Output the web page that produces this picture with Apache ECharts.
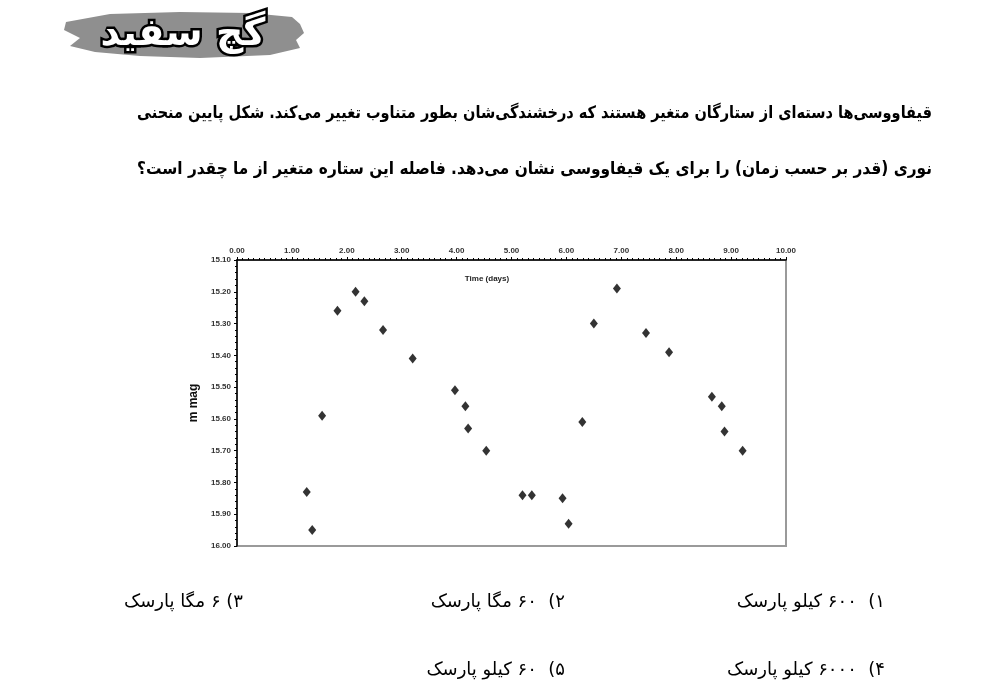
<!DOCTYPE html>
<html>
<head>
<meta charset="utf-8">
<script src="https://cdn.jsdelivr.net/npm/echarts@6/dist/echarts.min.js"></script>
<style>
  html, body { margin: 0; padding: 0; background: #fff; }
  #main { width: 992px; height: 692px; }
</style>
</head>
<body>
<div id="main"></div>
<script>
// light curve of a cepheid: time (days) vs apparent magnitude
var timeDays = [1.27, 1.37, 1.55, 1.83, 2.16, 2.32, 2.66, 3.20, 3.97, 4.16, 4.21, 4.54, 5.20,
  5.37, 5.93, 6.04, 6.29, 6.50, 6.92, 7.45, 7.87, 8.65, 8.83, 8.88, 9.21];
var magnitudes = [15.83, 15.95, 15.59, 15.26, 15.20, 15.23, 15.32, 15.41, 15.51, 15.56, 15.63, 15.70, 15.84,
  15.84, 15.85, 15.93, 15.61, 15.30, 15.19, 15.33, 15.39, 15.53, 15.56, 15.64, 15.70];

var questionLines = [
  'قیفاووسی‌ها دسته‌ای از ستارگان متغیر هستند که درخشندگی‌شان بطور متناوب تغییر می‌کند. شکل پایین منحنی',
  'نوری (قدر بر حسب زمان) را برای یک قیفاووسی نشان می‌دهد. فاصله این ستاره متغیر از ما چقدر است؟'
];
var answerOptions = [
  '۱)  ۶۰۰ کیلو پارسک',
  '۲)  ۶۰ مگا پارسک',
  '۳) ۶ مگا پارسک',
  '۴)  ۶۰۰۰ کیلو پارسک',
  '۵)  ۶۰ کیلو پارسک'
];

var RLM = '\u200F';
var chart = echarts.init(document.getElementById('main'));

var data = timeDays.map(function (t, i) { return [t, magnitudes[i]]; });

var faFont = '"DejaVu Sans", sans-serif';
var numFont = '"Liberation Sans", Arial, sans-serif';

// answer positions (right edge x, y)
var optPos = [[885, 602], [565, 602], [243, 602], [885, 670], [565, 670]];

// question lines are squeezed to the paragraph width (932 - 137), like justified text
var lineFont = 'bold 17px ' + faFont;
var measureCtx = document.createElement('canvas').getContext('2d');
measureCtx.font = lineFont;

var graphics = [
  // logo brush stroke
  {
    type: 'polygon',
    shape: {
      points: [[66, 22], [110, 14], [180, 12], [250, 13], [292, 17], [300, 24], [304, 33],
        [296, 40], [300, 48], [270, 55], [200, 58], [140, 56], [95, 52], [70, 46], [80, 38], [64, 30]]
    },
    style: { fill: '#8f8f8f' }
  },
  {
    type: 'text',
    x: 183, y: 35,
    style: {
      text: 'گچ سفید',
      font: 'bold 38px ' + faFont,
      fill: '#fff',
      stroke: '#000',
      lineWidth: 5,
      align: 'center',
      verticalAlign: 'middle'
    }
  },
  {
    type: 'text',
    x: 487, y: 279,
    style: {
      text: 'Time (days)',
      font: 'bold 8px ' + numFont,
      fill: '#222',
      align: 'center',
      verticalAlign: 'middle'
    }
  }
];

questionLines.forEach(function (line, i) {
  var w = measureCtx.measureText(RLM + line).width || 795;
  graphics.push({
    type: 'text',
    x: 932, y: 114 + i * 56,
    scaleX: Math.min(1, 795 / w),
    style: {
      text: RLM + line,
      font: lineFont,
      fill: '#000',
      align: 'right',
      verticalAlign: 'middle'
    }
  });
});

answerOptions.forEach(function (opt, i) {
  graphics.push({
    type: 'text',
    x: optPos[i][0], y: optPos[i][1],
    style: {
      text: RLM + opt,
      font: '18px ' + faFont,
      fill: '#000',
      align: 'right',
      verticalAlign: 'middle'
    }
  });
});

var option = {
  backgroundColor: '#fff',
  animation: false,
  grid: {
    left: 237, right: 206, top: 260, bottom: 146,
    show: true,
    borderColor: '#9a9a9a',
    borderWidth: 2,
    backgroundColor: '#fff'
  },
  xAxis: {
    type: 'value',
    position: 'top',
    min: 0, max: 10, interval: 1,
    axisLine: { onZero: false, lineStyle: { color: '#000', width: 1.5 } },
    axisTick: { show: true, length: 3, lineStyle: { color: '#000' } },
    minorTick: { show: true, splitNumber: 10, length: 2, lineStyle: { color: '#000' } },
    splitLine: { show: false },
    axisLabel: {
      fontSize: 8, fontWeight: 'bold', color: '#333', margin: 5,
      fontFamily: numFont,
      formatter: function (v) { return v.toFixed(2); }
    }
  },
  yAxis: {
    type: 'value',
    inverse: true,
    min: 15.1, max: 16.0, interval: 0.1,
    name: 'm mag',
    nameLocation: 'middle',
    nameGap: 36,
    nameTextStyle: { fontSize: 12, fontWeight: 'bold', color: '#111', fontFamily: numFont },
    axisLine: { onZero: false, lineStyle: { color: '#000', width: 1.5 } },
    axisTick: { show: true, length: 3, lineStyle: { color: '#000' } },
    minorTick: { show: true, splitNumber: 5, length: 2, lineStyle: { color: '#000' } },
    splitLine: { show: false },
    axisLabel: {
      fontSize: 8, fontWeight: 'bold', color: '#333', margin: 6,
      fontFamily: numFont,
      formatter: function (v) { return v.toFixed(2); }
    }
  },
  series: [{
    type: 'scatter',
    symbol: 'diamond',
    symbolSize: [8, 10],
    itemStyle: { color: '#000' },
    data: data
  }],
  graphic: graphics
};

chart.setOption(option);
</script>
</body>
</html>
